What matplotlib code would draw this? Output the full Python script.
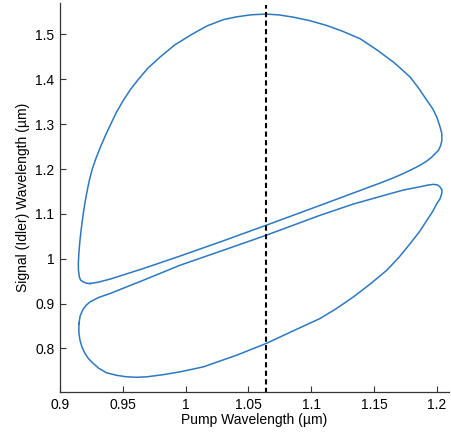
import matplotlib
matplotlib.use('Agg')
import matplotlib.pyplot as plt
from matplotlib.ticker import FuncFormatter

plt.rcParams['font.family'] = ['Liberation Sans', 'DejaVu Sans']
plt.rcParams['font.size'] = 10

# signal branch (upper loop): pump wavelength vs signal wavelength, um
signal_pump = [0.9239, 0.930, 0.9398, 0.9663, 0.9955, 1.030, 1.064, 1.107,
               1.1548, 1.165, 1.1733, 1.180, 1.1866, 1.1915, 1.1959, 1.2012,
               1.2030, 1.2039, 1.2039, 1.2025, 1.1999, 1.1965, 1.192, 1.1855,
               1.1787, 1.172, 1.1654, 1.152, 1.1389, 1.125, 1.1123, 1.0985,
               1.0858, 1.0745, 1.064, 1.052, 1.040, 1.030, 1.017, 1.0048,
               0.9915, 0.9796, 0.970, 0.9624, 0.956, 0.9504, 0.945, 0.9404,
               0.9362, 0.9322, 0.9288, 0.9257, 0.9232, 0.9212, 0.9197, 0.9185,
               0.9168, 0.9159, 0.9150, 0.9146, 0.9147, 0.9154, 0.9165, 0.9186,
               0.921, 0.9239]
signal_wl = [0.9448, 0.9475, 0.9545, 0.9782, 1.006, 1.040, 1.0746, 1.119,
             1.1688, 1.180, 1.190, 1.199, 1.2085, 1.217, 1.2267, 1.2417,
             1.2525, 1.2639, 1.2788, 1.2935, 1.3158, 1.335, 1.353, 1.38,
             1.4049, 1.422, 1.4383, 1.466, 1.4904, 1.507, 1.52, 1.531,
             1.5385, 1.5435, 1.5455, 1.5438, 1.539, 1.533, 1.519, 1.5,
             1.477, 1.4495, 1.425, 1.4, 1.377, 1.353, 1.327, 1.3,
             1.275, 1.249, 1.225, 1.2, 1.173, 1.1452, 1.122, 1.1,
             1.0635, 1.0412, 1.0116, 0.9893, 0.975, 0.9595, 0.952, 0.9483,
             0.9455, 0.9448]

# idler branch (lower loop)
idler_pump = [0.9151, 0.916, 0.918, 0.9205, 0.9239, 0.931, 0.9398, 0.9663,
              0.9955, 1.030, 1.064, 1.107, 1.1335, 1.1601, 1.173, 1.1866,
              1.192, 1.1972, 1.2005, 1.2025, 1.2040, 1.2038, 1.2025, 1.1999,
              1.1965, 1.192, 1.186, 1.1787, 1.170, 1.1601, 1.147, 1.1335,
              1.120, 1.107, 1.085, 1.064, 1.0407, 1.0141, 0.9955, 0.982,
              0.969, 0.961, 0.9531, 0.945, 0.9372, 0.931, 0.9265, 0.9228,
              0.9199, 0.9175, 0.9159, 0.915, 0.9151]
idler_wl = [0.8557, 0.872, 0.8853, 0.8955, 0.9038, 0.914, 0.9225, 0.9521,
            0.9855, 1.019, 1.0523, 1.0969, 1.122, 1.143, 1.153, 1.1605,
            1.1638, 1.1659, 1.1645, 1.16, 1.1535, 1.1452, 1.134, 1.1229,
            1.105, 1.0857, 1.060, 1.0339, 1.004, 0.9744, 0.944, 0.9149,
            0.889, 0.8668, 0.8385, 0.8111, 0.7851, 0.759, 0.7479, 0.7415,
            0.7368, 0.7358, 0.7368, 0.7402, 0.7457, 0.7555, 0.7666, 0.777,
            0.7889, 0.803, 0.8185, 0.837, 0.8557]

pump_marker = 1.064
marker_span = [0.70, 1.565]

x_ticks = [0.9, 0.95, 1.0, 1.05, 1.1, 1.15, 1.2]
y_ticks = [0.8, 0.9, 1.0, 1.1, 1.2, 1.3, 1.4, 1.5]

fig = plt.figure(figsize=(4.52, 4.37), dpi=100)
ax = fig.add_axes([0.1327, 0.103, 0.8607, 0.890])

blue = '#2c78c0'
ax.plot(signal_pump, signal_wl, color=blue, lw=1.1, solid_joinstyle='round')
ax.plot(idler_pump, idler_wl, color=blue, lw=1.1, solid_joinstyle='round')
ax.plot([pump_marker, pump_marker], marker_span, color='black',
        lw=1.5, linestyle=(0, (2.5, 1.6)))

ax.set_xlim(0.9, 1.2096)
ax.set_ylim(0.703, 1.57)
ax.set_xticks(x_ticks)
ax.set_yticks(y_ticks)
fmt = FuncFormatter(lambda v, p: f'{v:g}')
ax.xaxis.set_major_formatter(fmt)
ax.yaxis.set_major_formatter(fmt)

for s in ['top', 'right']:
    ax.spines[s].set_visible(False)
for s in ['left', 'bottom']:
    ax.spines[s].set_color('#333333')
    ax.spines[s].set_linewidth(0.9)
ax.tick_params(direction='in', length=4, width=0.8, color='#333333',
               labelsize=10, pad=4)

ax.set_xlabel('Pump Wavelength (\u00b5m)', fontsize=10, labelpad=1)
ax.set_ylabel('Signal (Idler) Wavelength (\u00b5m)', fontsize=10, labelpad=4)

fig.savefig('out.png', dpi=100)
